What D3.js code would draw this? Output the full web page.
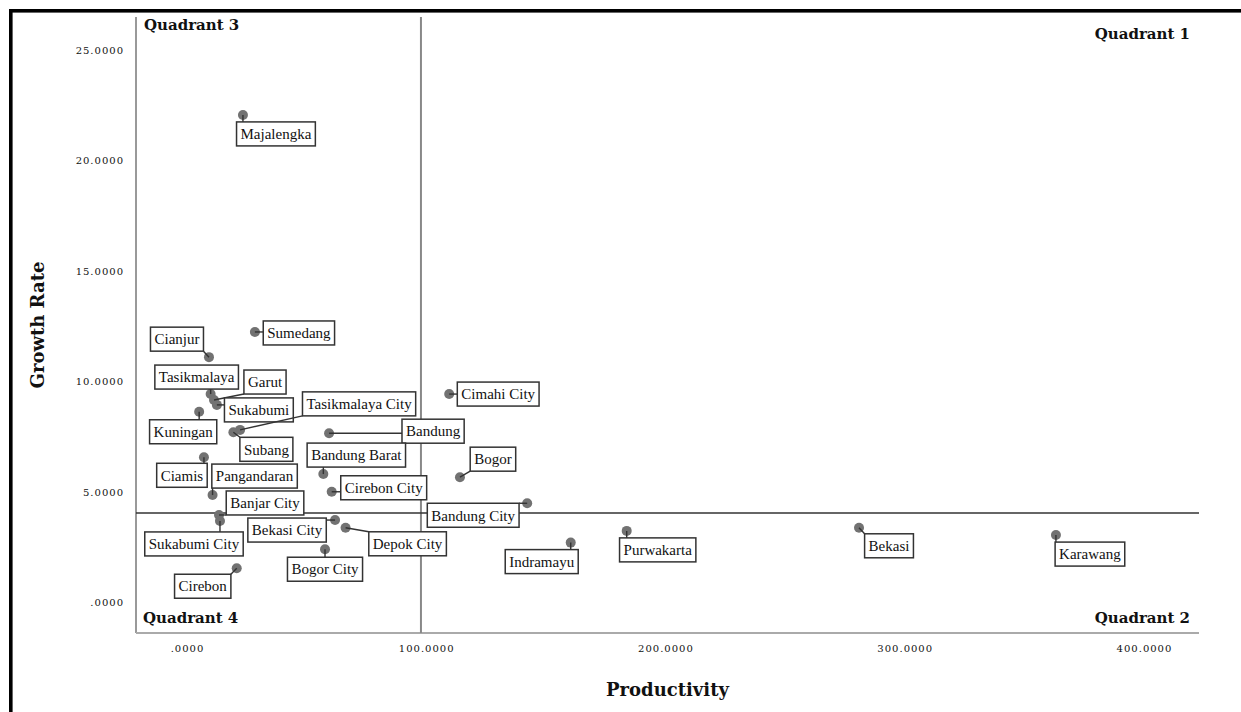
<!DOCTYPE html>
<html>
<head>
<meta charset="utf-8">
<script src="https://cdn.jsdelivr.net/npm/d3@7"></script>
<style>
  body { margin: 0; background: #fff; }
  svg { display: block; }
</style>
</head>
<body>
<svg id="chart"></svg>
<script>
(function() {

// region names, x = productivity, y = growth rate
const regions = [
  "Majalengka", "Sumedang", "Cianjur", "Tasikmalaya", "Garut", "Sukabumi",
  "Tasikmalaya City", "Kuningan", "Subang", "Bandung", "Ciamis", "Bandung Barat",
  "Pangandaran", "Cirebon City", "Banjar City", "Sukabumi City", "Bekasi City",
  "Depok City", "Bogor City", "Cirebon", "Cimahi City", "Bogor", "Bandung City",
  "Indramayu", "Purwakarta", "Bekasi", "Karawang"
];
const productivity = [
  23.4, 28.4, 9.2, 9.9, 11.3, 12.5,
  22.2, 5.1, 19.4, 59.4, 7.1, 57.0,
  10.7, 60.5, 13.4, 13.8, 61.9,
  66.3, 57.7, 20.8, 109.6, 114.1, 142.2,
  160.4, 183.8, 280.9, 363.2
];
const growthRate = [
  22.06, 12.24, 11.10, 9.43, 9.16, 8.94,
  7.81, 8.63, 7.70, 7.66, 6.57, 5.81,
  4.86, 5.01, 3.96, 3.69, 3.73,
  3.38, 2.41, 1.55, 9.43, 5.67, 4.49,
  2.71, 3.24, 3.38, 3.05
];
const xTicks = [0, 100, 200, 300, 400];
const yTicks = [0, 5, 10, 15, 20, 25];
const refProductivity = 97.8;
const refGrowth = 4.05;
const quadrants = ["Quadrant 1", "Quadrant 2", "Quadrant 3", "Quadrant 4"];

// label placement (pixel offset of label box centre from its point)
const labelOffset = {
  "Majalengka": [33, 19], "Sumedang": [44, 1], "Cianjur": [-32, -18],
  "Tasikmalaya": [-14, -17], "Garut": [51, -18], "Sukabumi": [42, 5],
  "Tasikmalaya City": [119, -26], "Kuningan": [-16, 20], "Subang": [33, 17],
  "Bandung": [104, -2], "Ciamis": [-22, 18], "Bandung Barat": [33, -19],
  "Pangandaran": [42, -19], "Cirebon City": [52, -4], "Banjar City": [46, -12],
  "Sukabumi City": [-26, 23], "Bekasi City": [-48, 10], "Depok City": [62, 16],
  "Bogor City": [0, 20], "Cirebon": [-34, 18], "Cimahi City": [49, 0],
  "Bogor": [33, -18], "Bandung City": [-54, 12], "Indramayu": [-29, 19],
  "Purwakarta": [31, 19], "Bekasi": [30, 18], "Karawang": [34, 19]
};

const W = 1241, H = 712;
const plot = { left: 136, right: 1199, top: 17, bottom: 633 };

const svg = d3.select("#chart").attr("width", W).attr("height", H);

const data = regions.map((name, i) => ({
  name: name, x: productivity[i], y: growthRate[i]
}));

const x = d3.scaleLinear().domain([-21.3, 423]).range([plot.left, plot.right]);
const y = d3.scaleLinear().domain([-1.38, 26.49]).range([plot.bottom, plot.top]);

const fmt = v => v === 0 ? ".0000" : d3.format(".4f")(v);

// outer frame
svg.append("rect")
    .attr("x", 10.8).attr("y", 10.8)
    .attr("width", W + 20).attr("height", H + 20)
    .attr("fill", "none").attr("stroke", "#000").attr("stroke-width", 3.6);

// axes (labels only)
const xAxis = svg.append("g")
    .attr("transform", `translate(0,${plot.bottom + 9})`)
    .call(d3.axisBottom(x).tickValues(xTicks).tickSize(0).tickFormat(fmt));
const yAxis = svg.append("g")
    .attr("transform", `translate(${plot.left - 9},0)`)
    .call(d3.axisLeft(y).tickValues(yTicks).tickSize(0).tickFormat(fmt));
[xAxis, yAxis].forEach(g => {
  g.select(".domain").remove();
  g.selectAll("text")
      .attr("font-family", "DejaVu Serif")
      .attr("font-size", 10)
      .attr("letter-spacing", 1)
      .attr("fill", "#111");
});
yAxis.selectAll("text").attr("dy", "0.35em");

// axis lines
svg.append("line")
    .attr("x1", plot.left).attr("x2", plot.left)
    .attr("y1", plot.top).attr("y2", plot.bottom)
    .attr("stroke", "#999").attr("stroke-width", 2);
svg.append("line")
    .attr("x1", plot.left).attr("x2", plot.right)
    .attr("y1", plot.bottom).attr("y2", plot.bottom)
    .attr("stroke", "#aaa").attr("stroke-width", 2);

// reference lines
svg.append("line")
    .attr("x1", x(refProductivity)).attr("x2", x(refProductivity))
    .attr("y1", plot.top).attr("y2", plot.bottom)
    .attr("stroke", "#888").attr("stroke-width", 2);
svg.append("line")
    .attr("x1", plot.left).attr("x2", plot.right)
    .attr("y1", y(refGrowth)).attr("y2", y(refGrowth))
    .attr("stroke", "#333").attr("stroke-width", 1.5);

// axis titles
svg.append("text")
    .attr("x", (plot.left + plot.right) / 2).attr("y", 696)
    .attr("text-anchor", "middle")
    .attr("font-family", "DejaVu Serif").attr("font-weight", "bold")
    .attr("font-size", 18).attr("fill", "#111")
    .text("Productivity");
svg.append("text")
    .attr("transform", `translate(44,${(plot.top + plot.bottom) / 2}) rotate(-90)`)
    .attr("text-anchor", "middle")
    .attr("font-family", "DejaVu Serif").attr("font-weight", "bold")
    .attr("font-size", 18).attr("fill", "#111")
    .text("Growth Rate");

// quadrant names
const qPos = [
  { x: plot.right - 9, y: 39, anchor: "end" },
  { x: plot.right - 9, y: 623, anchor: "end" },
  { x: plot.left + 8, y: 30, anchor: "start" },
  { x: plot.left + 7, y: 623, anchor: "start" }
];
quadrants.forEach((q, i) => {
  svg.append("text")
      .attr("x", qPos[i].x).attr("y", qPos[i].y)
      .attr("text-anchor", qPos[i].anchor)
      .attr("font-family", "DejaVu Serif").attr("font-weight", "bold")
      .attr("font-size", 15).attr("fill", "#111")
      .text(q);
});

// points
svg.append("g").selectAll("circle")
  .data(data)
  .join("circle")
    .attr("cx", d => x(d.x))
    .attr("cy", d => y(d.y))
    .attr("r", 5)
    .attr("fill", "#727272");

// labels with connectors
const labels = svg.append("g");
data.forEach(d => {
  const px = x(d.x), py = y(d.y);
  const off = labelOffset[d.name];
  const cx = px + off[0], cy = py + off[1];
  const g = labels.append("g");
  const conn = g.append("line").attr("stroke", "#333").attr("stroke-width", 1.4);
  const rect = g.append("rect");
  const t = g.append("text")
      .attr("x", cx).attr("y", cy)
      .attr("dy", "0.35em")
      .attr("text-anchor", "middle")
      .attr("font-family", "Liberation Serif")
      .attr("font-size", 15)
      .attr("fill", "#111")
      .text(d.name);
  const tw = t.node().getComputedTextLength();
  const bw = tw + 8, bh = 24;
  rect.attr("x", cx - bw / 2).attr("y", cy - bh / 2)
      .attr("width", bw).attr("height", bh)
      .attr("fill", "#fff").attr("stroke", "#333").attr("stroke-width", 1.5);
  // connector to nearest point on the box edge
  const ex = Math.max(cx - bw / 2, Math.min(px, cx + bw / 2));
  const ey = Math.max(cy - bh / 2, Math.min(py, cy + bh / 2));
  conn.attr("x1", px).attr("y1", py).attr("x2", ex).attr("y2", ey);
});

})();
</script>
</body>
</html>
